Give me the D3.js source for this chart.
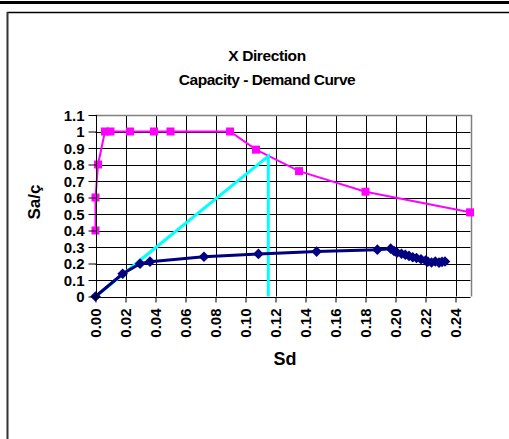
<!DOCTYPE html>
<html>
<head>
<meta charset="utf-8">
<script src="https://cdn.jsdelivr.net/npm/d3@7"></script>
<style>
  html, body { margin: 0; padding: 0; background: #fff; }
  svg { display: block; }
  text { font-family: "Liberation Sans", Arial, sans-serif; font-weight: bold; fill: #000; }
</style>
</head>
<body>
<svg id="chart" width="509" height="439"></svg>
<script>
// Demand spectrum (Sd, Sa/g)
const demandSd = [0.000, 0.000, 0.0017, 0.0063, 0.010, 0.023, 0.039, 0.050, 0.0897, 0.107, 0.1357, 0.180, 0.2497];
const demandSa = [0.40, 0.60, 0.80, 1.00, 1.00, 1.00, 1.00, 1.00, 1.00, 0.89, 0.76, 0.635, 0.51];

// Capacity curve (Sd, Sa/g)
const capacitySd = [0.000, 0.0181, 0.0297, 0.0363, 0.0723, 0.1086, 0.1474, 0.1879, 0.1968, 0.1990, 0.2010, 0.2040,
  0.2065, 0.2090, 0.2115, 0.2140, 0.2170, 0.2200, 0.2215, 0.2240, 0.2265, 0.2290, 0.2310, 0.2330];
const capacitySa = [0.000, 0.138, 0.199, 0.211, 0.241, 0.258, 0.272, 0.284, 0.290, 0.276, 0.266, 0.259,
  0.253, 0.246, 0.238, 0.233, 0.226, 0.218, 0.211, 0.206, 0.212, 0.205, 0.210, 0.212];

// Performance point construction line
const perfSd = [0.000, 0.1152, 0.1152];
const perfSa = [0.000, 0.851, 0.000];

const xTicks = [0.00, 0.02, 0.04, 0.06, 0.08, 0.10, 0.12, 0.14, 0.16, 0.18, 0.20, 0.22, 0.24];
const yTicks = [0, 0.1, 0.2, 0.3, 0.4, 0.5, 0.6, 0.7, 0.8, 0.9, 1, 1.1];

const svg = d3.select("#chart");

// outer frame
svg.append("rect").attr("x", 0).attr("y", 1).attr("width", 509).attr("height", 3).attr("fill", "#000");
svg.append("line").attr("x1", 7).attr("x2", 509).attr("y1", 12.5).attr("y2", 12.5).attr("stroke", "#000").attr("stroke-width", 1.5);
svg.append("line").attr("x1", 7.5).attr("x2", 7.5).attr("y1", 12).attr("y2", 439).attr("stroke", "#333").attr("stroke-width", 2);

const x = d3.scaleLinear().domain([0, 0.25]).range([95.5, 470.5]);
const y = d3.scaleLinear().domain([0, 1.1]).range([296.5, 115]);

const plot = svg.append("g");

// gridlines
plot.append("g").selectAll("line").data(yTicks.slice(1)).join("line")
  .attr("x1", x(0)).attr("x2", x(0.25))
  .attr("y1", d => Math.round(y(d)) + 0.5).attr("y2", d => Math.round(y(d)) + 0.5)
  .attr("stroke", "#000").attr("stroke-width", 1);
plot.append("g").selectAll("line").data(xTicks.slice(1)).join("line")
  .attr("y1", y(0)).attr("y2", y(1.1))
  .attr("x1", d => Math.round(x(d)) + 0.5).attr("x2", d => Math.round(x(d)) + 0.5)
  .attr("stroke", "#000").attr("stroke-width", 1);

// plot border (top/right)
plot.append("path")
  .attr("d", `M${x(0)},${Math.round(y(1.1)) + 0.5}H${Math.round(x(0.25)) + 0.5}V${y(0)}`)
  .attr("fill", "none").attr("stroke", "#808080").attr("stroke-width", 1.5);

// axes
const xAxis = d3.axisBottom(x).tickValues(xTicks).tickSize(5).tickFormat(d3.format(".2f"));
const gx = svg.append("g").attr("transform", `translate(0,${Math.round(y(0)) + 0.5})`).call(xAxis);
gx.select(".domain").attr("stroke", "#000").attr("d", `M${x(0)},0H${x(0.25)}`);
gx.selectAll(".tick line").attr("stroke", "#000");
gx.selectAll(".tick text")
  .attr("font-size", 15).attr("font-family", "Liberation Sans, Arial, sans-serif").attr("font-weight", "bold")
  .attr("fill", "#000")
  .attr("transform", "rotate(-90)")
  .attr("text-anchor", "end")
  .attr("x", -11).attr("y", 0).attr("dy", "0.36em");

const yAxis = d3.axisLeft(y).tickValues(yTicks).tickSize(8).tickFormat(d => d3.format("")(+d.toFixed(1)));
const gy = svg.append("g").attr("transform", `translate(${Math.round(x(0)) + 0.5},0)`).call(yAxis);
gy.select(".domain").attr("stroke", "#000").attr("d", `M0,${y(0)}V${y(1.1)}`);
gy.selectAll(".tick line").attr("stroke", "#000");
gy.selectAll(".tick text")
  .attr("font-size", 15).attr("font-family", "Liberation Sans, Arial, sans-serif").attr("font-weight", "bold")
  .attr("fill", "#000").attr("x", -12).attr("dy", "0.36em");

// series
const line = d3.line().x(d => x(d[0])).y(d => y(d[1]));
const demand = demandSd.map((v, i) => [v, demandSa[i]]);
const capacity = capacitySd.map((v, i) => [v, capacitySa[i]]);
const perf = perfSd.map((v, i) => [v, perfSa[i]]);

plot.append("path").datum(demand).attr("d", line)
  .attr("fill", "none").attr("stroke", "#ff00ff").attr("stroke-width", 2);
plot.append("g").selectAll("rect").data(demand).join("rect")
  .attr("x", d => x(d[0]) - 4).attr("y", d => y(d[1]) - 4)
  .attr("width", 8).attr("height", 8).attr("fill", "#ff00ff");

plot.append("path").datum(perf).attr("d", line)
  .attr("fill", "none").attr("stroke", "#00ffff").attr("stroke-width", 3);

plot.append("path").datum(capacity).attr("d", line)
  .attr("fill", "none").attr("stroke", "#000080").attr("stroke-width", 3);
const diamond = d3.symbol().type(d3.symbolDiamond2).size(72);
plot.append("g").selectAll("path").data(capacity).join("path")
  .attr("d", diamond)
  .attr("transform", d => `translate(${x(d[0])},${y(d[1])})`)
  .attr("fill", "#000080");

// titles
svg.append("text").attr("x", 267).attr("y", 61).attr("text-anchor", "middle").attr("font-size", 15.5)
  .attr("letter-spacing", -0.4).text("X Direction");
svg.append("text").attr("x", 267).attr("y", 85).attr("text-anchor", "middle").attr("font-size", 15.5)
  .attr("letter-spacing", -0.5).text("Capacity - Demand Curve");
svg.append("text").attr("x", 285).attr("y", 365).attr("text-anchor", "middle").attr("font-size", 18).text("Sd");
svg.append("text").attr("transform", "translate(40,202) rotate(-90)").attr("text-anchor", "middle").attr("font-size", 17).text("Sa/ç");
</script>
</body>
</html>
